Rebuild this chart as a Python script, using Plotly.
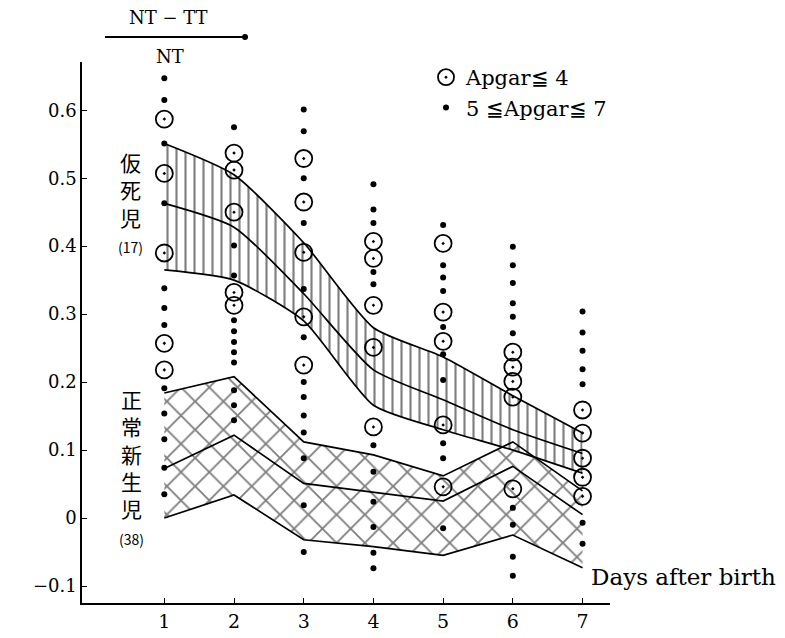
import plotly.graph_objects as go

# ---------------- data ----------------
days = [1, 2, 3, 4, 5, 6, 7]
tick_labels_x = ["1", "2", "3", "4", "5", "6", "7"]
tick_vals_y = [-0.1, 0, 0.1, 0.2, 0.3, 0.4, 0.5, 0.6]
tick_labels_y = ["\u22120.1", "0", "0.1", "0.2", "0.3", "0.4", "0.5", "0.6"]

# asphyxiated newborns (仮死児, n=17): mean and band limits
asph_upper = [0.551, 0.505, 0.405, 0.280, 0.237, 0.180, 0.125]
asph_mean = [0.463, 0.428, 0.330, 0.218, 0.174, 0.130, 0.095]
asph_lower = [0.365, 0.350, 0.290, 0.166, 0.130, 0.100, 0.066]

# normal newborns (正常新生児, n=38): mean and band limits
norm_upper = [0.184, 0.208, 0.112, 0.093, 0.062, 0.112, 0.040]
norm_mean = [0.073, 0.122, 0.051, 0.038, 0.025, 0.076, 0.005]
norm_lower = [0.000, 0.034, -0.032, -0.042, -0.055, -0.025, -0.073]

# individual values, Apgar <= 4 (circled dots), one list per day
apgar4_d1 = [0.587, 0.507, 0.390, 0.257, 0.218]
apgar4_d2 = [0.537, 0.512, 0.450, 0.332, 0.313]
apgar4_d3 = [0.529, 0.465, 0.391, 0.296, 0.225]
apgar4_d4 = [0.407, 0.382, 0.313, 0.251, 0.134]
apgar4_d5 = [0.404, 0.303, 0.260, 0.137, 0.046]
apgar4_d6 = [0.244, 0.222, 0.201, 0.178, 0.043]
apgar4_d7 = [0.159, 0.125, 0.088, 0.060, 0.032]

# individual values, 5 <= Apgar <= 7 (dots), one list per day
apgar57_d1 = [0.647, 0.615, 0.551, 0.463, 0.338, 0.309, 0.284, 0.191, 0.154, 0.116, 0.074, 0.035]
apgar57_d2 = [0.575, 0.401, 0.357, 0.291, 0.275, 0.259, 0.244, 0.229, 0.188, 0.166, 0.144]
apgar57_d3 = [0.601, 0.569, 0.500, 0.434, 0.337, 0.266, 0.200, 0.178, 0.151, 0.126, 0.088, 0.019, -0.050]
apgar57_d4 = [0.491, 0.454, 0.434, 0.362, 0.344, 0.107, 0.068, 0.024, -0.013, -0.051, -0.074]
apgar57_d5 = [0.431, 0.372, 0.354, 0.334, 0.281, 0.241, 0.203, 0.110, 0.088, -0.015]
apgar57_d6 = [0.399, 0.372, 0.346, 0.316, 0.296, 0.272, 0.015, -0.010, -0.057, -0.085]
apgar57_d7 = [0.304, 0.273, 0.246, 0.219, 0.197, -0.007, -0.038]

apgar4_by_day = [apgar4_d1, apgar4_d2, apgar4_d3, apgar4_d4, apgar4_d5, apgar4_d6, apgar4_d7]
apgar57_by_day = [apgar57_d1, apgar57_d2, apgar57_d3, apgar57_d4, apgar57_d5, apgar57_d6, apgar57_d7]

# ---------------- layout geometry (pixels, page coordinates) ----------------
OFF = 8                      # default page margin around the figure
W, H = 785 - OFF, 638 - OFF  # figure size so that it fits the window
PLOT_L, PLOT_R, PLOT_T, PLOT_B = 82, 610, 62, 603   # plot area in page pixels
L, T = PLOT_L - OFF, PLOT_T - OFF
R, B = W - (PLOT_R - OFF), H - (PLOT_B - OFF)
PW, PH = PLOT_R - PLOT_L, PLOT_B - PLOT_T


def px(x):
    return (x - PLOT_L) / PW


def py(y):
    return (PLOT_B - y) / PH


SERIF = "DejaVu Serif"
CJK = "Noto Sans CJK JP"
INK = "black"

fig = go.Figure()

# asphyxia band (vertical hatching)
fig.add_trace(go.Scatter(x=days, y=asph_lower, mode="lines",
                         line=dict(color=INK, width=1.7, shape="spline", smoothing=0.6),
                         showlegend=False, hoverinfo="skip"))
fig.add_trace(go.Scatter(x=days, y=asph_upper, mode="lines", fill="tonexty",
                         fillcolor="rgba(255,255,255,0)",
                         fillpattern=dict(shape="|", size=9, solidity=0.24, fgcolor=INK,
                                          bgcolor="rgba(255,255,255,0)"),
                         line=dict(color=INK, width=1.7, shape="spline", smoothing=0.6),
                         showlegend=False, hoverinfo="skip"))
fig.add_trace(go.Scatter(x=days, y=asph_mean, mode="lines",
                         line=dict(color=INK, width=1.7, shape="spline", smoothing=0.6),
                         showlegend=False, hoverinfo="skip"))

# normal band (cross hatching)
fig.add_trace(go.Scatter(x=days, y=norm_lower, mode="lines",
                         line=dict(color=INK, width=1.7),
                         showlegend=False, hoverinfo="skip"))
fig.add_trace(go.Scatter(x=days, y=norm_upper, mode="lines", fill="tonexty",
                         fillcolor="rgba(255,255,255,0)",
                         fillpattern=dict(shape="x", size=20, solidity=0.18, fgcolor=INK,
                                          bgcolor="rgba(255,255,255,0)"),
                         line=dict(color=INK, width=1.7),
                         showlegend=False, hoverinfo="skip"))
fig.add_trace(go.Scatter(x=days, y=norm_mean, mode="lines",
                         line=dict(color=INK, width=1.7),
                         showlegend=False, hoverinfo="skip"))

# individual points
x4, y4 = [], []
for d, vals in zip(days, apgar4_by_day):
    x4 += [d] * len(vals)
    y4 += vals
x57, y57 = [], []
for d, vals in zip(days, apgar57_by_day):
    x57 += [d] * len(vals)
    y57 += vals

fig.add_trace(go.Scatter(x=x4, y=y4, mode="markers", name="Apgar\u2266 4", legendgroup="a",
                         marker=dict(symbol="circle-open-dot", size=17, color=INK,
                                     line=dict(width=1.8, color=INK))))
fig.add_trace(go.Scatter(x=x57, y=y57, mode="markers", name="5 \u2266Apgar\u2266 7",
                         legendgroup="b",
                         marker=dict(symbol="circle", size=6, color=INK)))

fig.update_layout(
    width=W, height=H,
    margin=dict(l=L, r=R, t=T, b=B, autoexpand=False),
    paper_bgcolor="white", plot_bgcolor="white",
    font=dict(family=SERIF, size=18, color=INK),
    legend=dict(x=px(426), y=py(57), xanchor="left", yanchor="top", traceorder="normal",
                bgcolor="rgba(255,255,255,0)", font=dict(family=SERIF, size=21),
                tracegroupgap=14),
    xaxis=dict(range=[-0.181, 7.394], tickvals=days, ticktext=tick_labels_x,
               showline=True, linecolor=INK, linewidth=1.5, ticks="inside", ticklen=5,
               tickcolor=INK, showgrid=False, zeroline=False, automargin=False,
               tickfont=dict(family=SERIF, size=19)),
    yaxis=dict(range=[-0.125, 0.671], tickvals=tick_vals_y, ticktext=tick_labels_y,
               showline=True, linecolor=INK, linewidth=1.5, ticks="inside", ticklen=5,
               tickcolor=INK, showgrid=False, zeroline=False, automargin=False,
               tickfont=dict(family=SERIF, size=18)),
)


def label(text, x, y, size, family=SERIF):
    fig.add_annotation(text=text, x=px(x), y=py(y), xref="paper", yref="paper",
                       xanchor="center", yanchor="middle", showarrow=False,
                       font=dict(family=family, size=size))


# y-axis title as a fraction
label("NT \u2212 TT", 168, 17, 18)
label("NT", 170, 56, 18)
fig.add_shape(type="line", xref="paper", yref="paper", x0=px(105), x1=px(245),
              y0=py(37), y1=py(37), line=dict(color=INK, width=2))
fig.add_shape(type="circle", xref="paper", yref="paper", x0=px(242), x1=px(248),
              y0=py(40), y1=py(34), fillcolor=INK, line=dict(color=INK, width=0))

# group labels
label("仮<br>死<br>児<br><span style='font-size:14px'>(17)</span>", 130, 202, 21, CJK)
label("正<br>常<br>新<br>生<br>児<br><span style='font-size:14px'>(38)</span>", 131, 467, 21, CJK)

# x-axis title
label("Days after birth", 683, 577, 23)

fig.write_html("out.html")
